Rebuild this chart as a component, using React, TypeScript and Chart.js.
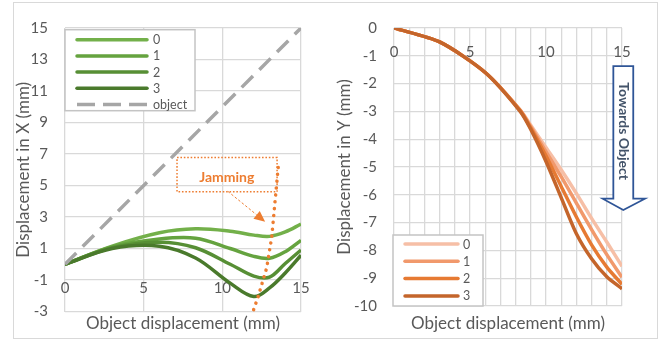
import React, { useEffect, useRef } from "react";
import { Chart, registerables } from "chart.js";
Chart.register(...registerables);

// ---------- data ----------
const leftX = [0, 3, 6, 8.3, 10.5, 12, 13, 14, 15];
const leftS0 = [0, 1.15, 2.0, 2.25, 2.1, 1.85, 1.77, 2.05, 2.55];
const leftS1 = [0, 1.1, 1.6, 1.65, 1.0, 0.5, 0.38, 0.8, 1.52];
const leftS2 = [0, 1.05, 1.4, 1.05, 0.0, -0.75, -0.82, 0.05, 0.9];
const leftS3 = [0, 1.0, 1.15, 0.4, -1.2, -2.05, -1.5, -0.55, 0.57];
const objectX = [0, 15];
const objectY = [0, 15];
const leftLabels = ["0", "1", "2", "3", "object"];

const rightX = [0, 3, 6, 8.3, 9, 10, 11, 12, 13, 14, 15];
const rightS0 = [0, -0.5, -1.6, -2.95, -3.5, -4.3, -5.1, -5.95, -6.85, -7.7, -8.57];
const rightS1 = [0, -0.5, -1.6, -2.95, -3.55, -4.45, -5.35, -6.3, -7.25, -8.15, -8.97];
const rightS2 = [0, -0.5, -1.6, -2.97, -3.6, -4.6, -5.7, -6.8, -7.8, -8.6, -9.22];
const rightS3 = [0, -0.5, -1.6, -3.0, -3.65, -4.8, -6.1, -7.4, -8.3, -8.95, -9.38];
const rightLabels = ["0", "1", "2", "3"];

const xTickLabels = [0, 5, 10, 15];

// ---------- styles ----------
const FONT = "Lato, 'Open Sans', sans-serif";
const TEXT = "#595959";
const GRID = "#d9d9d9";
const greens = ["#73b04a", "#65a33f", "#578f35", "#4a7a2c"];
const oranges = ["#f6bfa6", "#f1996c", "#e67a33", "#c4652b"];
const ORANGE = "#ED7D31";

const xLabelsAtZero = {
  id: "xLabelsAtZero",
  beforeDatasetsDraw(chart: any) {
    const ctx = chart.ctx;
    const xs = chart.scales.x;
    const ys = chart.scales.y;
    const y0 = ys.getPixelForValue(0);
    ctx.save();
    ctx.font = `15px ${FONT}`;
    ctx.fillStyle = TEXT;
    ctx.textAlign = "center";
    ctx.textBaseline = "middle";
    xTickLabels.forEach((v) => ctx.fillText(String(v), xs.getPixelForValue(v), y0 + 24));
    ctx.restore();
  },
};

function boxLegend(opts: {
  dx: number; dy: number; w: number; h: number; fromBottom?: boolean;
  rowTop: number; rowGap: number; lineFrom: number; lineTo: number; textX: number;
}) {
  return {
    id: "boxLegend",
    afterDatasetsDraw(chart: any) {
      const ctx = chart.ctx;
      const a = chart.chartArea;
      const left = a.left + opts.dx;
      const top = opts.fromBottom ? a.bottom - opts.h + opts.dy : a.top + opts.dy;
      ctx.save();
      ctx.fillStyle = "#ffffff";
      ctx.fillRect(left, top, opts.w, opts.h);
      ctx.strokeStyle = "#c4c4c4";
      ctx.lineWidth = 1.5;
      ctx.strokeRect(left, top, opts.w, opts.h);
      chart.data.datasets.forEach((ds: any, i: number) => {
        const y = top + opts.rowTop + i * opts.rowGap;
        ctx.beginPath();
        ctx.strokeStyle = ds.borderColor;
        ctx.lineWidth = ds.borderWidth;
        ctx.lineCap = ds.borderDash ? "butt" : "round";
        ctx.setLineDash(ds.borderDash ? [18, 8] : []);
        ctx.moveTo(left + opts.lineFrom, y);
        ctx.lineTo(left + opts.lineTo, y);
        ctx.stroke();
        ctx.setLineDash([]);
        ctx.fillStyle = TEXT;
        ctx.font = `12.5px ${FONT}`;
        ctx.textAlign = "left";
        ctx.textBaseline = "middle";
        ctx.fillText(ds.label, left + opts.textX, y + 0.5);
      });
      ctx.restore();
    },
  };
}

const jammingPlugin = {
  id: "jamming",
  afterDatasetsDraw(chart: any) {
    const ctx = chart.ctx;
    const xs = chart.scales.x;
    const ys = chart.scales.y;
    const px = (v: number) => xs.getPixelForValue(v);
    const py = (v: number) => ys.getPixelForValue(v);
    ctx.save();
    const pts = [[13.55, 6.15], [13.14, 1.72], [12.82, -0.23], [12.27, -2.07], [11.95, -3.0]];
    ctx.beginPath();
    ctx.strokeStyle = ORANGE;
    ctx.lineWidth = 3.5;
    ctx.lineCap = "round";
    ctx.setLineDash([0.1, 6.8]);
    pts.forEach((p, i) => (i ? ctx.lineTo(px(p[0]), py(p[1])) : ctx.moveTo(px(p[0]), py(p[1]))));
    ctx.stroke();
    ctx.lineWidth = 1.5;
    ctx.lineCap = "butt";
    ctx.setLineDash([1.6, 1.8]);
    const x1 = px(7.12), x2 = px(13.48), y1 = py(6.77), y2 = py(4.6);
    ctx.strokeRect(x1, y1, x2 - x1, y2 - y1);
    ctx.setLineDash([]);
    ctx.fillStyle = ORANGE;
    ctx.font = `bold 14px ${FONT}`;
    ctx.textAlign = "center";
    ctx.textBaseline = "middle";
    ctx.fillText("Jamming", px(10.28), py(5.54));
    const sx = px(10.35), sy = py(4.63), tx = px(12.72), ty = py(2.7);
    const ang = Math.atan2(ty - sy, tx - sx);
    const hl = 11;
    ctx.beginPath();
    ctx.lineWidth = 1;
    ctx.setLineDash([2.5, 2]);
    ctx.moveTo(sx, sy);
    ctx.lineTo(tx - hl * Math.cos(ang), ty - hl * Math.sin(ang));
    ctx.stroke();
    ctx.setLineDash([]);
    ctx.beginPath();
    ctx.moveTo(tx, ty);
    ctx.lineTo(tx - hl * Math.cos(ang) + 5 * Math.sin(ang), ty - hl * Math.sin(ang) - 5 * Math.cos(ang));
    ctx.lineTo(tx - hl * Math.cos(ang) - 5 * Math.sin(ang), ty - hl * Math.sin(ang) + 5 * Math.cos(ang));
    ctx.closePath();
    ctx.fill();
    ctx.restore();
  },
};

const towardsPlugin = {
  id: "towards",
  afterDraw(chart: any) {
    const ctx = chart.ctx;
    const xs = chart.scales.x;
    const ys = chart.scales.y;
    const px = (v: number) => xs.getPixelForValue(v);
    const py = (v: number) => ys.getPixelForValue(v);
    const sL = px(14.43), sR = px(15.74), hL = px(13.73), hR = px(16.51);
    const top = py(-1.37), sB = py(-6.14), tip = py(-6.55);
    const cx = (sL + sR) / 2;
    ctx.save();
    ctx.beginPath();
    ctx.moveTo(sL, top);
    ctx.lineTo(sR, top);
    ctx.lineTo(sR, sB);
    ctx.lineTo(hR, sB);
    ctx.lineTo(cx, tip);
    ctx.lineTo(hL, sB);
    ctx.lineTo(sL, sB);
    ctx.closePath();
    ctx.fillStyle = "#ffffff";
    ctx.fill();
    ctx.strokeStyle = "#2F5597";
    ctx.lineWidth = 1.8;
    ctx.lineJoin = "miter";
    ctx.stroke();
    ctx.translate(cx, py(-3.71));
    ctx.rotate(Math.PI / 2);
    ctx.fillStyle = "#44546A";
    ctx.font = `bold 14px ${FONT}`;
    ctx.textAlign = "center";
    ctx.textBaseline = "middle";
    ctx.fillText("Towards Object", 0, 0);
    ctx.restore();
  },
};

function toXY(xs: number[], ys: number[]) {
  return xs.map((x, i) => ({ x, y: ys[i] }));
}

function leftConfig(): any {
  const series = [leftS0, leftS1, leftS2, leftS3];
  return {
    type: "line",
    data: {
      datasets: [
        ...series.map((s, i) => ({
          label: leftLabels[i],
          data: toXY(leftX, s),
          borderColor: greens[i],
          borderWidth: 3.5,
          pointRadius: 0,
          tension: 0.35,
          fill: false,
          order: 10 - i,
        })),
        {
          label: leftLabels[4],
          data: toXY(objectX, objectY),
          borderColor: "#a6a6a6",
          borderWidth: 3.5,
          borderDash: [16, 9],
          pointRadius: 0,
          fill: false,
          order: 0,
        },
      ],
    },
    options: {
      responsive: false,
      animation: false,
      events: [],
      layout: { padding: { top: 17, right: 29, left: 0, bottom: 0 } },
      plugins: { legend: { display: false }, tooltip: { enabled: false } },
      scales: {
        x: {
          type: "linear", min: 0, max: 15,
          ticks: { stepSize: 5, display: false },
          grid: { color: GRID, lineWidth: 1.3, drawTicks: false },
          border: { display: false },
          title: { display: true, text: "Object displacement (mm)", color: TEXT, font: { family: FONT, size: 17 }, padding: { top: 0, bottom: 4 } },
          afterFit: (s: any) => { s.height = 26.5; },
        },
        y: {
          type: "linear", min: -3, max: 15,
          ticks: { stepSize: 2, color: TEXT, font: { family: FONT, size: 15 }, padding: 17 },
          grid: { color: GRID, lineWidth: 1.3, drawTicks: false },
          border: { display: false },
          title: { display: true, text: "Displacement in X (mm)", color: TEXT, font: { family: FONT, size: 17 }, padding: { top: 0, bottom: 0 } },
          afterFit: (s: any) => { s.width = 52; },
        },
      },
    },
    plugins: [
      xLabelsAtZero,
      jammingPlugin,
      boxLegend({ dx: 0, dy: 1.7, w: 130, h: 81, rowTop: 10, rowGap: 16.2, lineFrom: 12, lineTo: 82, textX: 88 }),
    ],
  };
}

function rightConfig(): any {
  const series = [rightS0, rightS1, rightS2, rightS3];
  return {
    type: "line",
    data: {
      datasets: series.map((s, i) => ({
        label: rightLabels[i],
        data: toXY(rightX, s),
        borderColor: oranges[i],
        borderWidth: 3.5,
        pointRadius: 0,
        tension: 0.25,
        fill: false,
        order: 10 - i,
      })),
    },
    options: {
      responsive: false,
      animation: false,
      events: [],
      layout: { padding: { top: 21, right: 35, left: 0, bottom: 0 } },
      plugins: { legend: { display: false }, tooltip: { enabled: false } },
      scales: {
        x: {
          type: "linear", min: 0, max: 15,
          ticks: { stepSize: 1, display: false },
          grid: { color: GRID, lineWidth: 1.3, drawTicks: false },
          border: { display: false },
          title: { display: true, text: "Object displacement (mm)", color: TEXT, font: { family: FONT, size: 17 }, padding: { top: 0, bottom: 4 } },
          afterFit: (s: any) => { s.height = 32; },
        },
        y: {
          type: "linear", min: -10, max: 0,
          ticks: { stepSize: 1, color: TEXT, font: { family: FONT, size: 15 }, padding: 17 },
          grid: { color: GRID, lineWidth: 1.3, drawTicks: false },
          border: { display: false },
          title: { display: true, text: "Displacement in Y (mm)", color: TEXT, font: { family: FONT, size: 17 }, padding: { top: 4, bottom: 0 } },
          afterFit: (s: any) => { s.width = 64; },
        },
      },
    },
    plugins: [
      xLabelsAtZero,
      towardsPlugin,
      boxLegend({ dx: -1, dy: 0, w: 90, h: 71, fromBottom: true, rowTop: 9, rowGap: 17.3, lineFrom: 12, lineTo: 65, textX: 70 }),
    ],
  };
}

export default function App() {
  const leftRef = useRef<HTMLCanvasElement>(null);
  const rightRef = useRef<HTMLCanvasElement>(null);
  useEffect(() => {
    const c1 = new Chart(leftRef.current as HTMLCanvasElement, leftConfig());
    const c2 = new Chart(rightRef.current as HTMLCanvasElement, rightConfig());
    return () => {
      c1.destroy();
      c2.destroy();
    };
  }, []);
  return (
    <div style={{ position: "absolute", left: 0, top: 0, width: 665, height: 341, background: "#ffffff" }}>
      <div
        style={{
          position: "absolute", left: 13, top: 2, width: 645, height: 337,
          border: "1.5px solid #d9d9d9", boxSizing: "border-box",
        }}
      />
      <canvas ref={leftRef} width={317} height={336} style={{ position: "absolute", left: 13, top: 2, width: 317, height: 336 }} />
      <canvas ref={rightRef} width={327} height={336} style={{ position: "absolute", left: 330, top: 2, width: 327, height: 336 }} />
    </div>
  );
}
